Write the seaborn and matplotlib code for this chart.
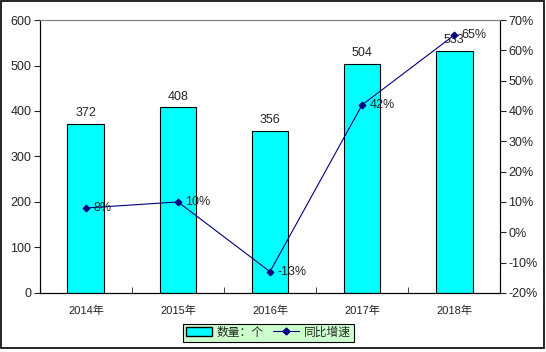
import numpy as np
import pandas as pd
import matplotlib
matplotlib.use('Agg')
import matplotlib.pyplot as plt
import seaborn as sns
from matplotlib.patches import Patch, Rectangle
from matplotlib.lines import Line2D

years = ['2014年', '2015年', '2016年', '2017年', '2018年']
counts = [372, 408, 356, 504, 533]
growth = [8, 10, -13, 42, 65]

sns.set_style('white')
plt.rcParams['font.family'] = ['Liberation Sans', 'Noto Sans CJK SC', 'DejaVu Sans']

fig = plt.figure(figsize=(5.46, 3.52), dpi=100)
ax = fig.add_axes([0.073, 0.168, 0.843, 0.775])
fig.patches.append(Rectangle((0.002, 0.012), 0.995, 0.984, transform=fig.transFigure,
                             fill=False, edgecolor='black', linewidth=1.2))

df = pd.DataFrame({'year': years, 'count': counts, 'growth': growth})
sns.barplot(data=df, x='year', y='count', color='#00FFFF', edgecolor='black',
            linewidth=0.8, width=0.4, saturation=1, ax=ax)
ax.set_ylim(0, 600)
ax.set_yticks(range(0, 601, 100))
ax.set_xlim(-0.5, 4.5)
ax.set_xlabel('')
ax.set_ylabel('')
for i, v in enumerate(counts):
    ax.text(i, v + 10, str(v), ha='center', va='bottom', fontsize=9)

ax2 = ax.twinx()
pos = np.arange(len(years))
sns.lineplot(x=pos, y=growth, ax=ax2, color='#000080', linewidth=0.8,
             marker='D', markersize=3.5, markeredgecolor='#000080')
ax2.set_ylim(-20, 70)
ax2.set_yticks(range(-20, 71, 10))
ax2.set_yticklabels([f'{t}%' for t in range(-20, 71, 10)])
for i, g in enumerate(growth):
    ax2.text(i + 0.08, g, f'{g}%', ha='left', va='center', fontsize=9)

# excel-like axes
for a in (ax, ax2):
    a.spines['top'].set_color('#808080')
    a.spines['left'].set_color('black')
    a.spines['right'].set_color('black')
    a.spines['bottom'].set_color('black')
    for s in a.spines.values():
        s.set_linewidth(0.8)
ax.tick_params(axis='y', direction='out', length=4, labelsize=9, left=True, pad=2)
ax2.tick_params(axis='y', direction='out', length=4, labelsize=9, right=True, pad=2)
ax.set_xticks(pos)
ax.set_xticklabels(years)
ax.tick_params(axis='x', length=0, labelsize=8, pad=9)
ax.set_xticks(np.arange(-0.5, 4.6, 1), minor=True)
ax.tick_params(axis='x', which='minor', direction='in', length=4, bottom=True)

handles = [Patch(facecolor='#00FFFF', edgecolor='black', label='数量：个'),
           Line2D([0], [0], color='#000080', marker='D', markersize=3.5, linewidth=0.8,
                  label='同比增速')]
leg = fig.legend(handles=handles, loc='lower center', bbox_to_anchor=(0.492, 0.013),
                 ncol=2, fontsize=8.5, frameon=True, fancybox=False,
                 handlelength=2.2, handletextpad=0.4, columnspacing=0.8,
                 borderpad=0.25)
leg.get_frame().set_facecolor('#CCFFCC')
leg.get_frame().set_edgecolor('black')
leg.get_frame().set_linewidth(0.8)
leg.get_frame().set_alpha(1)

fig.savefig('out.png', dpi=100)
